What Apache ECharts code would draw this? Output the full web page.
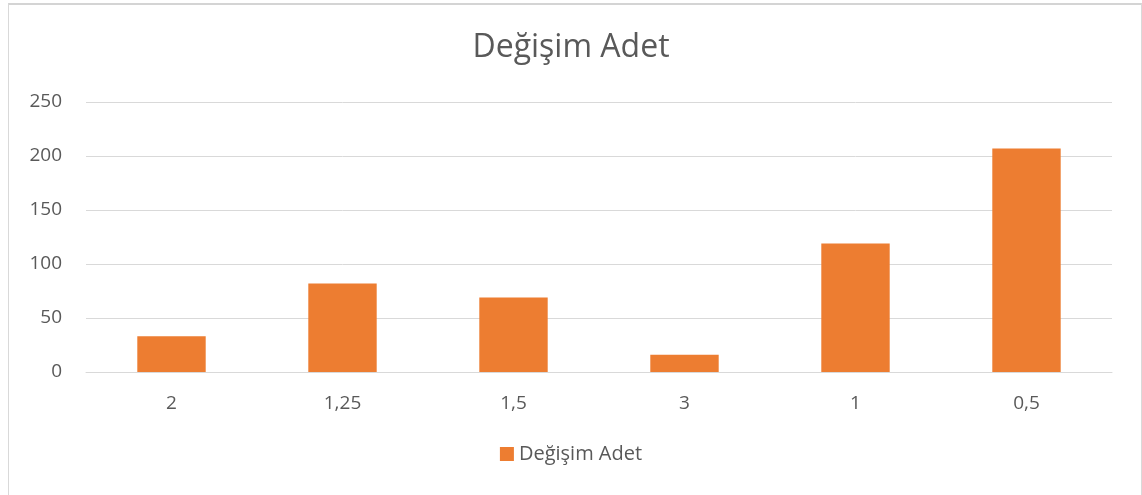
<!DOCTYPE html>
<html>
<head>
<meta charset="utf-8">
<script src="https://cdn.jsdelivr.net/npm/echarts@6/dist/echarts.min.js"></script>
<style>
  html, body { margin: 0; padding: 0; background: #fff; }
  #frame {
    position: absolute; left: 8px; top: 3px; width: 1132px; height: 490px;
    border: 1px solid #d9d9d9; border-top: 2px solid #d4d4d4;
  }
  #chart { position: absolute; left: 0; top: 0; width: 1142px; height: 495px; }
</style>
</head>
<body>
<div id="frame"></div>
<div id="chart"></div>
<script>
const categories = ['2', '1,25', '1,5', '3', '1', '0,5']
const degisimAdet = [33, 82, 69, 16, 119, 207]
const yTicks = [0, 50, 100, 150, 200, 250]

const chart = echarts.init(document.getElementById('chart'))
const font = '"Open Sans", "Noto Sans", sans-serif'

chart.setOption({
  animation: false,
  title: {
    text: 'Değişim Adet',
    left: 'center',
    top: 27,
    textStyle: { fontFamily: font, fontSize: 32, fontWeight: 'normal', color: '#595959' }
  },
  legend: {
    data: ['Değişim Adet'],
    bottom: 26,
    left: 'center',
    icon: 'rect',
    itemWidth: 14,
    itemHeight: 14,
    itemGap: 7,
    textStyle: { fontFamily: font, fontSize: 20, color: '#595959' }
  },
  grid: { left: 86, right: 30, top: 102, bottom: 123 },
  xAxis: {
    type: 'category',
    data: categories,
    axisLine: { lineStyle: { color: '#d9d9d9', width: 1 } },
    axisTick: { show: false },
    axisLabel: { fontFamily: font, fontSize: 19, color: '#595959', margin: 22 }
  },
  yAxis: {
    type: 'value',
    min: yTicks[0],
    max: yTicks[yTicks.length - 1],
    interval: 50,
    axisLine: { show: false },
    axisTick: { show: false },
    splitLine: { lineStyle: { color: '#d9d9d9', width: 1 } },
    axisLabel: { fontFamily: font, fontSize: 19, color: '#595959', margin: 24 }
  },
  series: [
    {
      name: 'Değişim Adet',
      type: 'bar',
      data: degisimAdet,
      barWidth: '40%',
      itemStyle: { color: '#ED7D31' }
    }
  ]
})
</script>
</body>
</html>
